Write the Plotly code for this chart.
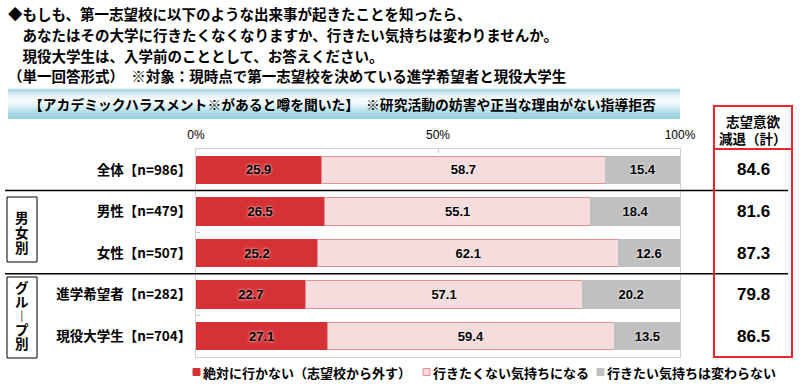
import plotly.graph_objects as go

categories = ["全体【n=986】", "男性【n=479】", "女性【n=507】", "進学希望者【n=282】", "現役大学生【n=704】"]
series_names = ["絶対に行かない（志望校から外す）", "行きたくない気持ちになる", "行きたい気持ちは変わらない"]
never_go = [25.9, 26.5, 25.2, 22.7, 27.1]
reluctant = [58.7, 55.1, 62.1, 57.1, 59.4]
unchanged = [15.4, 18.4, 12.6, 20.2, 13.5]
decline_total = [84.6, 81.6, 87.3, 79.8, 86.5]
x_ticks = [0, 50, 100]
x_tick_labels = ["0%", "50%", "100%"]

title_lines = [
    "◆もしも、第一志望校に以下のような出来事が起きたことを知ったら、",
    "　あなたはその大学に行きたくなくなりますか、行きたい気持ちは変わりませんか。",
    "　現役大学生は、入学前のこととして、お答えください。",
    "（単一回答形式）　※対象：現時点で第一志望校を決めている進学希望者と現役大学生",
]
header_text = "【アカデミックハラスメント※があると噂を聞いた】　※研究活動の妨害や正当な理由がない指導拒否"
group_labels = [["男", "女", "別"], ["グ", "ル", "︱", "プ", "別"]]
side_header = ["志望意欲", "減退（計）"]

W, H = 800, 387
L, R, T, B = 196, 120, 149, 30
PW = W - L - R
PH = H - T - B


def px2x(px):
    return (px - L) / PW


def py2y(py):
    return (T + PH - py) / PH


JP = "Noto Sans CJK JP"
NUM = "Liberation Sans, Noto Sans CJK JP"
colors = ["#d63236", "#f6dcdc", "#c0c0c0"]
line_colors = ["#d63236", "#e89090", "#c0c0c0"]

fig = go.Figure()
for name, vals, c, lc in zip(series_names, [never_go, reluctant, unchanged], colors, line_colors):
    fig.add_trace(go.Bar(
        y=categories, x=vals, name=name, orientation="h",
        marker=dict(color=c, line=dict(color=lc, width=1)),
        text=[f"{v:.1f}" for v in vals], textposition="inside",
        insidetextanchor="middle", constraintext="none",
        textfont=dict(family=NUM, size=13, color="#000", weight="bold",
                      shadow="0px 0px 3px white"),
        hoverinfo="skip", showlegend=False,
    ))

shapes = []
annotations = []

# header gradient bar
hdr_top, hdr_bot = 89, 119
stops = ["#b4d9e4", "#cfe7ee", "#e8f4f7", "#f6fbfc", "#f3fafc", "#e2f2f7", "#cde9f1", "#b8e0eb", "#a7d7e5", "#9fd2e1"]
n = len(stops)
for i, col in enumerate(stops):
    y0 = hdr_top + (hdr_bot - hdr_top) * i / n
    y1 = hdr_top + (hdr_bot - hdr_top) * (i + 1) / n
    shapes.append(dict(type="rect", xref="paper", yref="paper",
                       x0=px2x(8), x1=px2x(680), y0=py2y(y1), y1=py2y(y0) + 0.001,
                       fillcolor=col, line=dict(width=0), layer="below"))
annotations.append(dict(xref="paper", yref="paper", x=px2x(27), y=py2y(104),
                        xanchor="left", yanchor="middle", showarrow=False,
                        text=header_text, font=dict(family=JP, size=13.8, color="#000", weight="bold")))

# title lines
for i, t in enumerate(title_lines):
    annotations.append(dict(xref="paper", yref="paper", x=px2x(6), y=py2y(13 + 21 * i),
                            xanchor="left", yanchor="middle", showarrow=False, text=t,
                            font=dict(family=JP, size=14.5, color="#000", weight="bold")))

# black separators
for yb in [0.5, 2.5]:
    shapes.append(dict(type="line", xref="paper", yref="y", x0=px2x(5), x1=px2x(788),
                       y0=yb, y1=yb, line=dict(color="#000", width=1.5)))

# group boxes (pixel positions of box edges and vertical character stacks)
group_boxes = [(197, 262, 217, 15), (277, 358, 287, 14)]
for (top, bot, first, step), chars in zip(group_boxes, group_labels):
    shapes.append(dict(type="rect", xref="paper", yref="paper", x0=px2x(7), x1=px2x(37),
                       y0=py2y(bot), y1=py2y(top), line=dict(color="#000", width=1),
                       fillcolor="rgba(0,0,0,0)"))
    for k, ch in enumerate(chars):
        annotations.append(dict(xref="paper", yref="paper", x=px2x(22), y=py2y(first + step * k),
                                xanchor="center", yanchor="middle", showarrow=False, text=ch,
                                font=dict(family=JP, size=13.5, color="#000", weight="bold")))

# red total box
shapes.append(dict(type="rect", xref="paper", yref="paper", x0=px2x(714), x1=px2x(792),
                   y0=py2y(357), y1=py2y(106), line=dict(color="#e8262b", width=2),
                   fillcolor="rgba(0,0,0,0)"))
shapes.append(dict(type="line", xref="paper", yref="paper", x0=px2x(714), x1=px2x(792),
                   y0=py2y(149), y1=py2y(149), line=dict(color="#e8262b", width=2)))
for k, t in enumerate(side_header):
    annotations.append(dict(xref="paper", yref="paper", x=px2x(753), y=py2y(121 + 17 * k),
                            xanchor="center", yanchor="middle", showarrow=False, text=t,
                            font=dict(family=JP, size=13.5, color="#000", weight="bold")))
for cat, v in zip(categories, decline_total):
    annotations.append(dict(xref="paper", yref="y", x=px2x(753), y=cat,
                            xanchor="center", yanchor="middle", showarrow=False,
                            text=f"{v:.1f}", font=dict(family=NUM, size=17, color="#000", weight="bold")))

# legend
leg_items = [(193, 201), (423, 431), (597, 605)]
for (sq, tx), name, c, lc in zip(leg_items, series_names, colors, line_colors):
    shapes.append(dict(type="rect", xref="paper", yref="paper",
                       x0=px2x(sq), x1=px2x(sq + 7), y0=py2y(375.5), y1=py2y(368.5),
                       fillcolor=c, line=dict(color=lc, width=1)))
    annotations.append(dict(xref="paper", yref="paper", x=px2x(tx), y=py2y(372),
                            xanchor="left", yanchor="middle", showarrow=False, text=name,
                            font=dict(family=JP, size=13, color="#000", weight="bold")))

fig.update_layout(
    width=W, height=H, margin=dict(l=L, r=R, t=T, b=B, pad=0),
    paper_bgcolor="white", plot_bgcolor="white",
    barmode="stack", bargap=0.34,
    shapes=shapes, annotations=annotations, showlegend=False,
    xaxis=dict(range=[0, 100], side="top", tickvals=x_ticks, ticktext=x_tick_labels,
               showgrid=False, zeroline=False, showline=True, mirror=True,
               linecolor="#d0d0d0", linewidth=1, ticks="inside", ticklen=4,
               tickcolor="#c8c8c8", ticklabelstandoff=4,
               tickfont=dict(family=NUM, size=12, color="#000")),
    yaxis=dict(categoryorder="array", categoryarray=categories, autorange="reversed",
               showgrid=False, zeroline=False, showline=True, mirror=True,
               linecolor="#d0d0d0", linewidth=1, ticks="inside", ticklen=4,
               tickson="boundaries", tickcolor="#c8c8c8", ticklabelstandoff=1,
               tickfont=dict(family=JP, size=13.5, color="#000", weight="bold")),
)

fig.write_html("out.html", config={"displayModeBar": False},
               post_script="document.body.style.margin='0';document.body.style.overflow='hidden';")
